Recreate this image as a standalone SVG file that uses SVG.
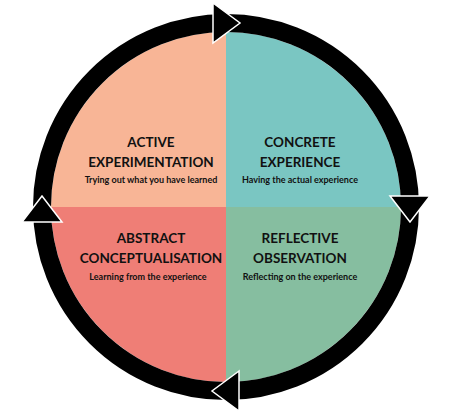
<svg xmlns="http://www.w3.org/2000/svg" width="455" height="417" viewBox="0 0 455 417">
<style>
.t{font-family:Lato,"Open Sans","Liberation Sans",sans-serif;font-weight:bold;font-size:13.5px;fill:#111;text-anchor:middle}
.s{font-family:Lato,"Open Sans","Liberation Sans",sans-serif;font-weight:bold;font-size:9px;fill:#111;text-anchor:middle}
.ah{fill:#000;stroke:#fff;stroke-width:1.5;stroke-linejoin:miter}
</style>
<rect width="455" height="417" fill="#fff"/>
<g id="active-experimentation">
<path d="M226,207 L51,207 A175,175 0 0 1 226,32 Z" fill="#F8B596"/>
<text class="t" x="151" y="147">ACTIVE</text>
<text class="t" x="151" y="167">EXPERIMENTATION</text>
<text class="s" x="151" y="183">Trying out what you have learned</text>
</g>
<g id="concrete-experience">
<path d="M226,207 L226,32 A175,175 0 0 1 401,207 Z" fill="#7AC6C2"/>
<text class="t" x="300" y="147">CONCRETE</text>
<text class="t" x="300" y="167">EXPERIENCE</text>
<text class="s" x="300" y="183">Having the actual experience</text>
</g>
<g id="reflective-observation">
<path d="M226,207 L401,207 A175,175 0 0 1 226,382 Z" fill="#86BEA0"/>
<text class="t" x="300" y="243">REFLECTIVE</text>
<text class="t" x="300" y="263">OBSERVATION</text>
<text class="s" x="300" y="280">Reflecting on the experience</text>
</g>
<g id="abstract-conceptualisation">
<path d="M226,207 L226,382 A175,175 0 0 1 51,207 Z" fill="#EF7E76"/>
<text class="t" x="151" y="243">ABSTRACT</text>
<text class="t" x="151" y="263">CONCEPTUALISATION</text>
<text class="s" x="148" y="280">Learning from the experience</text>
</g>
<g id="connectors">
<circle cx="226" cy="207" r="184" fill="none" stroke="#000" stroke-width="18"/>
<polygon class="ah" points="213,3 240,23 213,43"/>
<polygon class="ah" points="390,196 430,196 410,222"/>
<polygon class="ah" points="239,371 212,391 239,411"/>
<polygon class="ah" points="22,222 62,222 42,196"/>
</g>
</svg>
